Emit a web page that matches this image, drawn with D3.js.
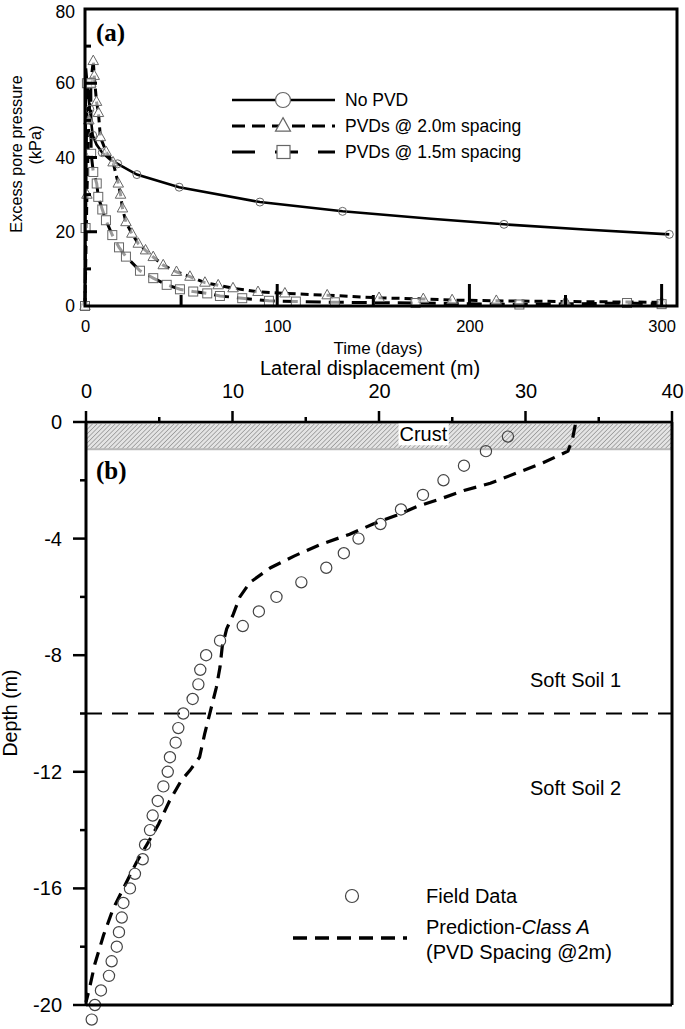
<!DOCTYPE html>
<html><head><meta charset="utf-8">
<script src="https://cdn.jsdelivr.net/npm/d3@7"></script>
<style>
body{margin:0;background:#fff}
svg{display:block}
text{font-family:"Liberation Sans",Arial,sans-serif;fill:#000}
</style>
</head><body>
<svg id="c" width="685" height="1029"></svg>
<script>
// ---------- Panel (a) data ----------
const timeTicks = [0, 100, 200, 300];
const timeMinorTicks = [50, 150, 250];
const ppTicks = [0, 20, 40, 60, 80];
const ppMinorTicks = [10, 30, 50, 70];

const noPvdLine = [[0,0],[0.5,64],[1.5,58],[2.5,53],[4,46],[6,43.5],[9,41.3],[13,39.5],[17,38.3],[27,35.4],[49,32],[91,28],[134,25.5],[180,23.5],[218,22],[260,20.6],[304,19.3]];
const noPvdPoints = [[0,0],[2.5,53],[4,46],[9,41.3],[17,38.3],[27,35.4],[49,32],[91,28],[134,25.5],[218,22],[304,19.3]];

const pvd20 = [[0,0],[1,30],[2,50],[3,60],[4.3,66],[4.8,62],[6,55],[7,52],[8,45.5],[11,41.5],[14.6,38.7],[17.3,33],[18.5,30],[19.5,26.3],[21.3,22.6],[24.4,19.5],[27.7,16.8],[31.5,15],[35.5,13.2],[40.7,11],[47.6,9.2],[54.6,7.9],[62.4,6.3],[69.3,5.6],[77,4.8],[90,3.8],[104,3.4],[126,2.9],[153,2.2],[176,1.9],[191,1.6],[214,1.4],[250,1.2],[300,1.0]];

const pvd15 = [[0,0],[0.3,21],[1,60],[3,60],[3.2,41],[4.3,36.1],[6.1,33],[6.9,29.4],[9,26],[10.9,23.1],[14.2,19.1],[17.7,15.8],[21.3,13.3],[28.6,9.5],[35.5,7.5],[42.5,5.7],[49.4,4.5],[56.3,3.9],[63.6,3.4],[70.2,2.7],[81.8,2.1],[95.7,1.4],[109.7,1.2],[130,1.0],[172,0.8],[226,0.4],[282,0.8],[300,0.5]];

const legendA = ["No PVD", "PVDs @ 2.0m spacing", "PVDs @ 1.5m spacing"];

// ---------- Panel (b) data ----------
const dispTicks = [0, 10, 20, 30, 40];
const dispMinorTicks = [5, 15, 25, 35];
const depthTicks = [0, -4, -8, -12, -16, -20];
const depthMinorTicks = [-2, -6, -10, -14, -18];
const crustBottom = -0.9;
const layerBoundary = -10;

const fieldDisp  = [28.8,27.3,25.8,24.4,23.0,21.5,20.1,18.6,17.6,16.4,14.7,13.0,11.8,10.7,9.15,8.2,7.8,7.67,7.28,6.64,6.3,6.12,5.73,5.58,5.28,4.9,4.55,4.37,4.03,3.87,3.34,3.0,2.55,2.44,2.25,2.1,1.75,1.57,1.02,0.61,0.39];
const fieldDepth = [-0.5,-1,-1.5,-2,-2.5,-3,-3.5,-4,-4.5,-5,-5.5,-6,-6.5,-7,-7.5,-8,-8.5,-9,-9.5,-10,-10.5,-11,-11.5,-12,-12.5,-13,-13.5,-14,-14.5,-15,-15.5,-16,-16.5,-17,-17.5,-18,-18.5,-19,-19.5,-20,-20.5];

const predDisp  = [33.4,33.2,32.9,31.2,29.4,27.6,25.8,24.4,22.6,21.2,19.6,18.0,16.0,14.2,12.6,11.2,10.5,10.05,9.6,9.3,9.15,8.9,8.5,8.1,7.75,7.1,6.5,5.7,4.95,4.15,3.45,2.65,1.85,1.2,0.6,0.25,0];
const predDepth = [-0.1,-0.6,-1.0,-1.4,-1.75,-2.1,-2.35,-2.6,-2.9,-3.2,-3.5,-3.85,-4.2,-4.6,-5.0,-5.5,-6.0,-6.6,-7.1,-7.7,-8.4,-9.1,-9.9,-10.7,-11.5,-11.95,-12.3,-13.0,-13.8,-14.5,-15.1,-15.9,-16.7,-17.6,-18.6,-19.4,-19.9];

// ---------- Drawing ----------
const svg = d3.select("#c");
const defs = svg.append("defs");
const pat = defs.append("pattern").attr("id","hatch").attr("patternUnits","userSpaceOnUse")
  .attr("width",3.2).attr("height",3.2).attr("patternTransform","rotate(45)");
pat.append("rect").attr("width",3.2).attr("height",3.2).attr("fill","#e4e4e4");
pat.append("line").attr("x1",0).attr("y1",0).attr("x2",0).attr("y2",3.2).attr("stroke","#7a7a7a").attr("stroke-width",1.1);

const plain = d => String(d);

// ===== Panel (a) =====
const A = {l:85, r:677, t:9, b:306};
const xa = d3.scaleLinear().domain([0,308]).range([A.l, A.r]);
const ya = d3.scaleLinear().domain([0,80]).range([A.b, A.t]);
const ga = svg.append("g");

const lineA = d3.line().x(d=>xa(d[0])).y(d=>ya(d[1]));
ga.append("path").datum(noPvdLine).attr("d",lineA).attr("fill","none").attr("stroke","#000").attr("stroke-width",2.6);
ga.append("path").datum(pvd20).attr("d",lineA).attr("fill","none").attr("stroke","#000").attr("stroke-width",3).attr("stroke-dasharray","8,5");
ga.append("path").datum(pvd15).attr("d",lineA).attr("fill","none").attr("stroke","#000").attr("stroke-width",3).attr("stroke-dasharray","15,8");

const triPath = s => { const h=s*0.9; return `M0,${-h*0.62}L${s/2},${h*0.38}L${-s/2},${h*0.38}Z`; };
ga.selectAll(".c0").data(noPvdPoints).join("circle").attr("cx",d=>xa(d[0])).attr("cy",d=>ya(d[1])).attr("r",4)
  .attr("fill","none").attr("stroke","#666").attr("stroke-width",1);
ga.selectAll(".t0").data(pvd20).join("path").attr("d",triPath(10.5)).attr("transform",d=>`translate(${xa(d[0])},${ya(d[1])})`)
  .attr("fill","#fff").attr("fill-opacity",0.6).attr("stroke","#666").attr("stroke-width",1);
ga.selectAll(".s0").data(pvd15).join("rect").attr("x",d=>xa(d[0])-4.5).attr("y",d=>ya(d[1])-4.5).attr("width",9).attr("height",9)
  .attr("fill","#fff").attr("fill-opacity",0.6).attr("stroke","#666").attr("stroke-width",1);

ga.append("rect").attr("x",A.l).attr("y",A.t).attr("width",A.r-A.l).attr("height",A.b-A.t)
  .attr("fill","none").attr("stroke","#000").attr("stroke-width",3);

const gx = ga.append("g").attr("transform",`translate(0,${A.b})`)
  .call(d3.axisBottom(xa).tickValues(timeTicks).tickFormat(plain).tickSize(0).tickPadding(14));
gx.select(".domain").remove();
gx.selectAll("text").attr("font-size",16.5).attr("font-family","Liberation Sans");
ga.selectAll(".xmaj").data(timeTicks.filter(d=>d>0)).join("line").attr("x1",d=>xa(d)).attr("x2",d=>xa(d)).attr("y1",A.b).attr("y2",A.b-22).attr("stroke","#000").attr("stroke-width",3);
ga.selectAll(".xmin").data(timeMinorTicks).join("line").attr("x1",d=>xa(d)).attr("x2",d=>xa(d)).attr("y1",A.b).attr("y2",A.b-11).attr("stroke","#000").attr("stroke-width",3);

const gy = ga.append("g").attr("transform",`translate(${A.l},0)`)
  .call(d3.axisLeft(ya).tickValues(ppTicks).tickFormat(plain).tickSize(0).tickPadding(10));
gy.select(".domain").remove();
gy.selectAll("text").attr("font-size",17.5).attr("font-family","Liberation Sans")
  .attr("dy", d => d === 80 ? "0.5em" : "0.32em");
ga.selectAll(".ymaj").data(ppTicks.filter(d=>d>0&&d<80)).join("line").attr("x1",A.l).attr("x2",A.l+12).attr("y1",d=>ya(d)).attr("y2",d=>ya(d)).attr("stroke","#000").attr("stroke-width",3);
ga.selectAll(".ymin").data(ppMinorTicks).join("line").attr("x1",A.l).attr("x2",A.l+6).attr("y1",d=>ya(d)).attr("y2",d=>ya(d)).attr("stroke","#000").attr("stroke-width",3);

ga.append("text").attr("x",378).attr("y",348).attr("text-anchor","middle").attr("dominant-baseline","central").attr("font-size",17).text("Time (days)");
ga.append("text").attr("transform","translate(16,154) rotate(-90)").attr("text-anchor","middle").attr("dominant-baseline","central").attr("font-size",16.3).text("Excess pore pressure");
ga.append("text").attr("transform","translate(35,145) rotate(-90)").attr("text-anchor","middle").attr("dominant-baseline","central").attr("font-size",16.3).text("(kPa)");
ga.append("text").attr("x",96).attr("y",41).attr("font-weight","bold").attr("font-size",25).style("font-family","'Liberation Serif',serif").text("(a)");

const legY = [100,126,152];
const lg = ga.append("g");
lg.append("line").attr("x1",232).attr("x2",335).attr("y1",legY[0]).attr("y2",legY[0]).attr("stroke","#000").attr("stroke-width",2.6);
lg.append("circle").attr("cx",283).attr("cy",legY[0]).attr("r",7.5).attr("fill","#fff").attr("stroke","#666").attr("stroke-width",1.2);
lg.append("line").attr("x1",232).attr("x2",335).attr("y1",legY[1]).attr("y2",legY[1]).attr("stroke","#000").attr("stroke-width",3).attr("stroke-dasharray","13,7");
lg.append("path").attr("d",triPath(15)).attr("transform",`translate(283,${legY[1]})`).attr("fill","#fff").attr("stroke","#666").attr("stroke-width",1.2);
lg.append("line").attr("x1",232).attr("x2",335).attr("y1",legY[2]).attr("y2",legY[2]).attr("stroke","#000").attr("stroke-width",3).attr("stroke-dasharray","23,20");
lg.append("rect").attr("x",277).attr("y",legY[2]-6.5).attr("width",13).attr("height",13).attr("fill","#fff").attr("stroke","#666").attr("stroke-width",1.2);
lg.selectAll(".lt").data(legendA).join("text").attr("x",345).attr("y",(d,i)=>legY[i]).attr("dominant-baseline","central").attr("font-size",17.5).text(d=>d);

// ===== Panel (b) =====
const B = {l:86, r:672, t:422, b:1005};
const xb = d3.scaleLinear().domain([0,40]).range([B.l, B.r]);
const yb = d3.scaleLinear().domain([0,-20]).range([B.t, B.b]);
const gb = svg.append("g");

gb.append("rect").attr("x",B.l).attr("y",yb(0)+1).attr("width",B.r-B.l).attr("height",yb(crustBottom)-yb(0))
  .attr("fill","url(#hatch)").attr("stroke","#b8b8b8").attr("stroke-width",2);
const crustLbl = gb.append("text").attr("x",xb(21.4)).attr("y",yb(-0.42)).attr("dominant-baseline","central").attr("font-size",20).text("Crust");
const bb = crustLbl.node().getBBox();
gb.insert("rect","text").attr("x",bb.x-1).attr("y",bb.y-1).attr("width",bb.width+2).attr("height",bb.height+1).attr("fill","#fff");

gb.append("line").attr("x1",B.l).attr("x2",B.r).attr("y1",yb(layerBoundary)).attr("y2",yb(layerBoundary))
  .attr("stroke","#000").attr("stroke-width",2.2).attr("stroke-dasharray","16,10");

const pred = predDisp.map((d,i)=>[d,predDepth[i]]);
gb.append("path").datum(pred).attr("d",d3.line().x(d=>xb(d[0])).y(d=>yb(d[1])))
  .attr("fill","none").attr("stroke","#000").attr("stroke-width",3.2).attr("stroke-dasharray","13,8");

const field = fieldDisp.map((d,i)=>[d,fieldDepth[i]]);
gb.selectAll(".fd").data(field).join("circle").attr("cx",d=>xb(d[0])).attr("cy",d=>yb(d[1])).attr("r",5.6)
  .attr("fill","none").attr("stroke","#444").attr("stroke-width",1.2);

gb.append("line").attr("x1",B.l).attr("x2",B.r).attr("y1",B.t).attr("y2",B.t).attr("stroke","#000").attr("stroke-width",2.5);
gb.append("line").attr("x1",B.l).attr("x2",B.l).attr("y1",B.t).attr("y2",B.b).attr("stroke","#000").attr("stroke-width",3);
gb.append("line").attr("x1",B.r).attr("x2",B.r).attr("y1",B.t).attr("y2",B.b).attr("stroke","#000").attr("stroke-width",3);
gb.append("line").attr("x1",B.l).attr("x2",B.r).attr("y1",B.b).attr("y2",B.b).attr("stroke","#000").attr("stroke-width",3);

const gbx = gb.append("g").attr("transform",`translate(0,${B.t})`)
  .call(d3.axisTop(xb).tickValues(dispTicks).tickFormat(plain).tickSize(0).tickPadding(24));
gbx.select(".domain").remove();
gbx.selectAll("text").attr("font-size",20).attr("font-family","Liberation Sans");
gb.selectAll(".bxmaj").data(dispTicks).join("line").attr("x1",d=>xb(d)).attr("x2",d=>xb(d)).attr("y1",B.t).attr("y2",B.t-11).attr("stroke","#000").attr("stroke-width",2.5);
gb.selectAll(".bxmin").data(dispMinorTicks).join("line").attr("x1",d=>xb(d)).attr("x2",d=>xb(d)).attr("y1",B.t).attr("y2",B.t-5).attr("stroke","#000").attr("stroke-width",2.5);

const gby = gb.append("g").attr("transform",`translate(${B.l},0)`)
  .call(d3.axisLeft(yb).tickValues(depthTicks).tickFormat(plain).tickSize(0).tickPadding(24));
gby.select(".domain").remove();
gby.selectAll("text").attr("font-size",20).attr("font-family","Liberation Sans");
gb.selectAll(".bymaj").data(depthTicks).join("line").attr("x1",B.l-13).attr("x2",B.l).attr("y1",d=>yb(d)).attr("y2",d=>yb(d)).attr("stroke","#000").attr("stroke-width",2.5);
gb.selectAll(".bymin").data(depthMinorTicks).join("line").attr("x1",B.l-6).attr("x2",B.l).attr("y1",d=>yb(d)).attr("y2",d=>yb(d)).attr("stroke","#000").attr("stroke-width",2.5);

gb.append("text").attr("x",370).attr("y",368).attr("text-anchor","middle").attr("dominant-baseline","central").attr("font-size",20).text("Lateral displacement (m)");
gb.append("text").attr("transform","translate(10,713) rotate(-90)").attr("text-anchor","middle").attr("dominant-baseline","central").attr("font-size",19.6).text("Depth (m)");
gb.append("text").attr("x",96).attr("y",479).attr("font-weight","bold").attr("font-size",25).style("font-family","'Liberation Serif',serif").text("(b)");
gb.append("text").attr("x",530).attr("y",680).attr("dominant-baseline","central").attr("font-size",20).text("Soft Soil 1");
gb.append("text").attr("x",530).attr("y",788).attr("dominant-baseline","central").attr("font-size",20).text("Soft Soil 2");

gb.append("circle").attr("cx",352).attr("cy",896).attr("r",6.5).attr("fill","none").attr("stroke","#444").attr("stroke-width",1.2);
gb.append("line").attr("x1",293).attr("x2",407).attr("y1",938).attr("y2",938).attr("stroke","#000").attr("stroke-width",3.4).attr("stroke-dasharray","14,8");
gb.append("text").attr("x",426).attr("y",896).attr("dominant-baseline","central").attr("font-size",20).text("Field Data");
const t2 = gb.append("text").attr("x",426).attr("y",927).attr("dominant-baseline","central").attr("font-size",20);
t2.append("tspan").text("Prediction-");
t2.append("tspan").attr("font-style","italic").text("Class A");
gb.append("text").attr("x",426).attr("y",952).attr("dominant-baseline","central").attr("font-size",20).text("(PVD Spacing @2m)");
</script>
</body></html>
